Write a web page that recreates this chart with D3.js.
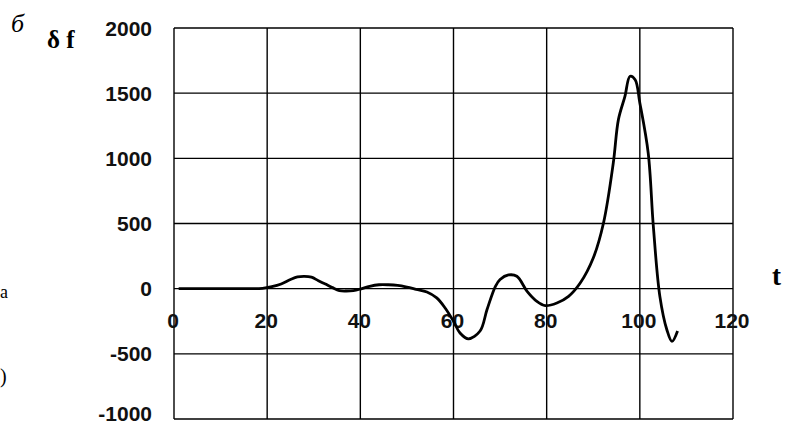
<!DOCTYPE html>
<html><head><meta charset="utf-8">
<script src="https://cdn.jsdelivr.net/npm/d3@7/dist/d3.min.js"></script>
<style>html,body{margin:0;padding:0;background:#fff;}svg{display:block;}</style>
</head><body>
<svg id="c" width="785" height="426"></svg>
<script>
const tValues = [1,5,10,15,19,21,23,25,26.5,28,29.5,31,32.5,34,35.5,37,38.5,40,42,44,46,48,50,52,54.3,56.4,58.2,60,61.4,63.2,65.7,67.2,69,70,71.8,73.6,75.8,77.9,79.7,82.2,84.7,87.2,90,92.2,94.3,95.4,96.8,97.9,99,100,101.8,102.9,104.3,105.8,106.9,108.1];
const dfValues = [0,0,0,0,2,15,36,70,90,95,88,61,35,8,-15,-18,-15,-3,18,30,30,25,12,-5,-25,-71,-148,-250,-340,-385,-325,-160,18,70,105,95,-20,-97,-130,-110,-59,43,235,504,964,1297,1475,1630,1603,1425,1040,478,-59,-315,-405,-325];
const xTicks = [0,20,40,60,80,100,120];
const yTicks = [-1000,-500,0,500,1000,1500,2000];

const svg = d3.select("#c");
const x = d3.scaleLinear().domain([0,120]).range([174,733]);
const y = d3.scaleLinear().domain([-1000,2000]).range([419,28]);

// grid
const g = svg.append("g");
g.selectAll("line.v").data(xTicks).join("line")
  .attr("x1",d=>x(d)).attr("x2",d=>x(d)).attr("y1",y(2000)).attr("y2",y(-1000))
  .attr("stroke","#000").attr("stroke-width",1.4);
g.selectAll("line.h").data(yTicks).join("line")
  .attr("y1",d=>y(d)).attr("y2",d=>y(d)).attr("x1",x(0)).attr("x2",x(120))
  .attr("stroke","#000").attr("stroke-width",1.4);

// y labels
svg.append("g").selectAll("text").data(yTicks).join("text")
  .attr("x",152).attr("y",d=>Math.min(y(d)+7.5,421))
  .attr("text-anchor","end")
  .attr("font-family","Liberation Sans, Arial, sans-serif").attr("font-weight","bold").attr("font-size",21)
  .attr("fill","#111").text(d=>d);

// x labels
svg.append("g").selectAll("text").data(xTicks).join("text")
  .attr("x",d=>x(d)-1).attr("y",320).attr("dy","0.36em")
  .attr("text-anchor","middle")
  .attr("font-family","Liberation Sans, Arial, sans-serif").attr("font-weight","bold").attr("font-size",21)
  .attr("fill","#111").text(d=>d);

// curve
const data = tValues.map((t,i)=>[t,dfValues[i]]);
svg.append("path").datum(data)
  .attr("d", d3.line().x(d=>x(d[0])).y(d=>y(d[1])).curve(d3.curveCatmullRom.alpha(0.5)))
  .attr("fill","none").attr("stroke","#000").attr("stroke-width",2.8).attr("stroke-linejoin","round");

// labels
svg.append("text").attr("x",11).attr("y",32)
  .attr("font-family","Liberation Serif, Times New Roman, serif").attr("font-style","italic").attr("font-size",26)
  .text("б");
svg.append("text").attr("x",47).attr("y",48)
  .attr("font-family","Liberation Serif, Times New Roman, serif").attr("font-weight","bold").attr("font-size",25)
  .text("δ f");
svg.append("text").attr("x",772).attr("y",285)
  .attr("font-family","Liberation Serif, Times New Roman, serif").attr("font-weight","bold").attr("font-size",27)
  .text("t");
svg.append("text").attr("x",0).attr("y",298)
  .attr("font-family","Liberation Serif, Times New Roman, serif").attr("font-size",18)
  .text("a");
svg.append("text").attr("x",0).attr("y",383)
  .attr("font-family","Liberation Serif, Times New Roman, serif").attr("font-size",20)
  .text(")");
</script>
</body></html>
